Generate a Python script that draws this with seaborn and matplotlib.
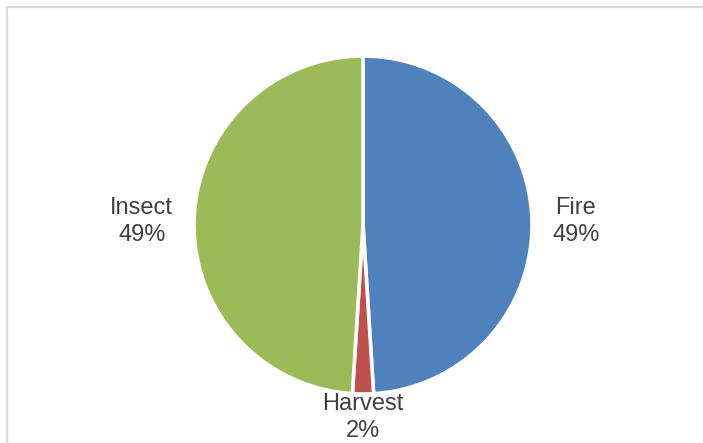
import numpy as np
import matplotlib
matplotlib.use("Agg")
import matplotlib.pyplot as plt
from matplotlib.lines import Line2D
import seaborn as sns

# Share of disturbance by cause
categories = ["Fire", "Harvest", "Insect"]
shares = [49, 2, 49]
pct_labels = ["49%", "2%", "49%"]

sns.set_theme(style="white")
plt.rcParams["font.family"] = ["Liberation Sans", "DejaVu Sans"]
colors = sns.color_palette(["#4F81BD", "#C0504D", "#9BBB59"])

W, H, DPI = 703, 443, 100
fig = plt.figure(figsize=(W / DPI, H / DPI), dpi=DPI)

# pie centre and radius in pixels
cx, cy, r = 363, 443 - 225, 169
ax = fig.add_axes([(cx - r) / W, (cy - r) / H, 2 * r / W, 2 * r / H])

wedges, _ = ax.pie(
    shares,
    colors=colors,
    startangle=90,
    counterclock=False,
    radius=1.0,
    wedgeprops=dict(edgecolor="white", linewidth=2.6),
)
ax.set_xlim(-1, 1)
ax.set_ylim(-1, 1)
ax.axis("off")

# category labels placed outside each wedge
label_dist = [1.26, 1.12, 1.31]
for w, name, pct, d in zip(wedges, categories, pct_labels, label_dist):
    mid = np.deg2rad((w.theta1 + w.theta2) / 2)
    x, y = d * np.cos(mid), d * np.sin(mid) - 0.018
    ax.text(x, y, f"{name}\n{pct}", ha="center", va="center",
            fontsize=17, color="#404040", linespacing=1.3, clip_on=False)

# chart area border (top and left)
bc = "#D9D9D9"
fig.add_artist(Line2D([7.5 / W, 7.5 / W], [0, 1 - 6.5 / H], color=bc, lw=1.6,
                      transform=fig.transFigure))
fig.add_artist(Line2D([7.5 / W, 1], [1 - 6.5 / H, 1 - 6.5 / H], color=bc, lw=1.6,
                      transform=fig.transFigure))

fig.savefig("out.png", dpi=DPI)
